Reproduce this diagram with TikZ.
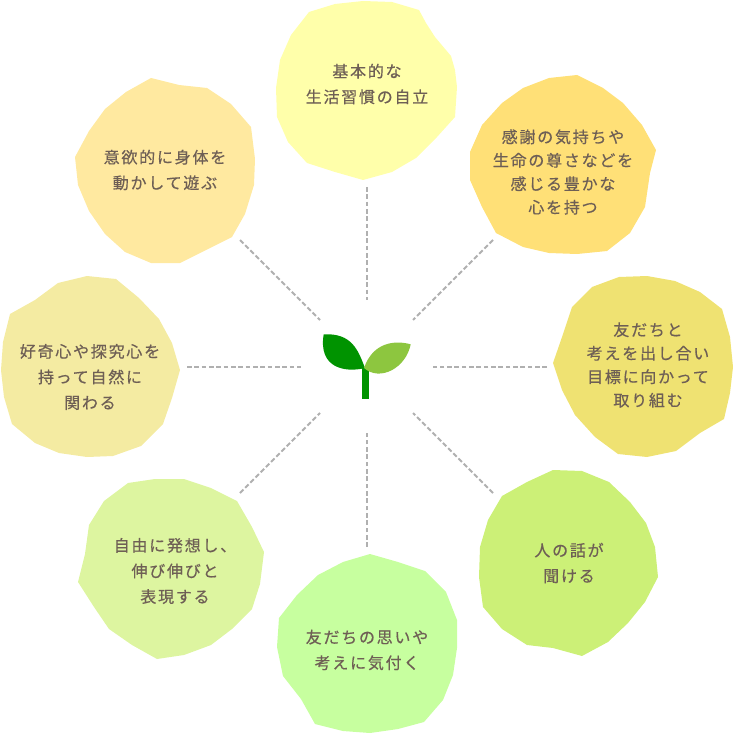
\documentclass[tikz,border=0pt]{standalone}
\usepackage{fontspec}
\newfontfamily\jpfont[LetterSpace=11,FakeBold=0.5]{Noto Sans CJK JP}
\usetikzlibrary{
    calc
}
\definecolor{blobA}{HTML}{FFFFAA}
\definecolor{blobB}{HTML}{FFE077}
\definecolor{blobC}{HTML}{EFE272}
\definecolor{blobD}{HTML}{CCF077}
\definecolor{blobE}{HTML}{C7FF9F}
\definecolor{blobF}{HTML}{DDF5A0}
\definecolor{blobG}{HTML}{F4EBA2}
\definecolor{blobH}{HTML}{FFE9A0}
\definecolor{labeltext}{HTML}{6E5F55}
\definecolor{spokegray}{HTML}{B0B0B0}
\definecolor{leafdark}{HTML}{009300}
\definecolor{leaflight}{HTML}{8DC63F}
\tikzset{
  label/.style={
    text=labeltext,
    align=center,
    inner sep=1pt,
    font=\jpfont\fontsize{12pt}{19.2pt}\selectfont
  },
  tightlabel/.style={
    label,
    font=\jpfont\fontsize{12pt}{17.6pt}\selectfont
  },
  spoke/.style={
    spokegray,
    line width=1.5pt,
    dash pattern=on 3.6pt off 1.9pt
  }
}

\begin{document}
\begin{tikzpicture}[x=0.75pt,y=-0.75pt]
    \useasboundingbox (0,0) rectangle (734,734);

    % 花びら
    \fill[blobA] (309,12) -- (335,4) -- (363,1) -- (392,2) -- (419,10) -- (426,23) -- (435,37) -- (451,56) -- (455,70) -- (457,87) -- (455,117) -- (437,137) -- (416,158) -- (392,172) -- (363,180) -- (335,172) -- (307,163) -- (288,142) -- (277,117) -- (276,88) -- (280,60) -- (291,35) -- cycle;
    \fill[blobB] (577,75) -- (603,88) -- (623,103) -- (642,125) -- (656,150) -- (650,173) -- (645,207) -- (630,233) -- (607,251) -- (577,254) -- (549,253) -- (523,247) -- (496,233) -- (482,207) -- (470,180) -- (470,152) -- (482,125) -- (502,103) -- (523,88) -- (549,78) -- cycle;
    \fill[blobC] (619,277) -- (647,276) -- (675,281) -- (700,292) -- (722,309) -- (730,337) -- (733,367) -- (730,393) -- (724,419) -- (700,433) -- (676,451) -- (647,457) -- (618,454) -- (595,437) -- (575,415) -- (562,390) -- (553,363) -- (562,337) -- (572,307) -- (592,287) -- cycle;
    \fill[blobD] (553,470) -- (582,471) -- (609,482) -- (630,502) -- (646,523) -- (655,547) -- (658,577) -- (645,602) -- (628,623) -- (608,642) -- (582,656) -- (553,648) -- (527,645) -- (502,629) -- (483,607) -- (479,577) -- (480,547) -- (488,520) -- (502,496) -- (527,482) -- cycle;
    \fill[blobE] (370,554) -- (398,562) -- (425,571) -- (446,592) -- (457,620) -- (457,648) -- (453,675) -- (443,700) -- (424,722) -- (398,729) -- (370,733) -- (343,731) -- (315,724) -- (301,699) -- (283,676) -- (277,647) -- (279,618) -- (297,595) -- (318,575) -- (343,562) -- cycle;
    \fill[blobF] (128,483) -- (155,479) -- (184,479) -- (211,488) -- (237,501) -- (252,527) -- (264,552) -- (260,584) -- (252,609) -- (232,629) -- (211,645) -- (184,655) -- (157,659) -- (132,645) -- (109,629) -- (94,607) -- (78,582) -- (85,554) -- (89,525) -- (104,501) -- cycle;
    \fill[blobG] (58,283) -- (87,276) -- (116,279) -- (139,298) -- (159,319) -- (172,343) -- (180,370) -- (172,398) -- (163,424) -- (141,446) -- (113,456) -- (87,457) -- (59,453) -- (35,443) -- (12,424) -- (4,397) -- (1,370) -- (3,342) -- (10,314) -- (35,300) -- cycle;
    \fill[blobH] (151,78) -- (179,85) -- (207,88) -- (231,104) -- (251,127) -- (255,159) -- (254,185) -- (245,214) -- (232,237) -- (206,250) -- (180,263) -- (151,263) -- (125,252) -- (105,234) -- (89,211) -- (78,185) -- (75,157) -- (89,131) -- (105,109) -- (126,92) -- cycle;

    % ラベル
    \node[label] (seikatsu) at (367,84) {基本的な\\生活習慣の自立};
    \node[tightlabel] (kokoro) at (563,172) {感謝の気持ちや\\生命の尊さなどを\\感じる豊かな\\心を持つ};
    \node[tightlabel] (kyoryoku) at (648,365) {友だちと\\考えを出し合い\\目標に向かって\\取り組む};
    \node[label] (kiku) at (569,563) {人の話が\\聞ける};
    \node[label] (kizuku) at (367,650) {友だちの思いや\\考えに気付く};
    \node[label] (hyogen) at (175,571) {自由に発想し、\\伸び伸びと\\表現する};
    \node[label] (kokishin) at (90,377) {好奇心や探究心を\\持って自然に\\関わる};
    \node[label] (karada) at (165,170) {意欲的に身体を\\動かして遊ぶ};

    % 中心からの点線
    \coordinate (n1) at (366.5,187);
    \coordinate (n2) at (366.5,300);
    \coordinate (ne1) at (493,240);
    \coordinate (ne2) at (413,320);
    \coordinate (e1) at (547,367);
    \coordinate (e2) at (433,367);
    \coordinate (se1) at (493,493);
    \coordinate (se2) at (413,413);
    \coordinate (s1) at (366.5,547);
    \coordinate (s2) at (366.5,433);
    \coordinate (sw1) at (240,493);
    \coordinate (sw2) at (320,413);
    \coordinate (w1) at (187,367);
    \coordinate (w2) at (301,367);
    \coordinate (nw1) at (240,240);
    \coordinate (nw2) at (320,320);
    \draw[spoke] (n1) -- (n2);
    \draw[spoke] (ne1) -- (ne2);
    \draw[spoke] (e1) -- (e2);
    \draw[spoke] (se1) -- (se2);
    \draw[spoke] (s1) -- (s2);
    \draw[spoke] (sw1) -- (sw2);
    \draw[spoke] (w1) -- (w2);
    \draw[spoke] (nw1) -- (nw2);

    % 双葉
    \fill[leafdark] (362.3,367) rectangle (369.3,399);
    \fill[leafdark] (323.7,334.3) .. controls (352,333) and (358,350) .. (365,368)
        .. controls (345,373) and (318,368) .. cycle;
    \fill[leaflight] (364,368) .. controls (373,342) and (395,340) .. (410.7,344.3)
        .. controls (406,368) and (380,382) .. cycle;
\end{tikzpicture}
\end{document}
